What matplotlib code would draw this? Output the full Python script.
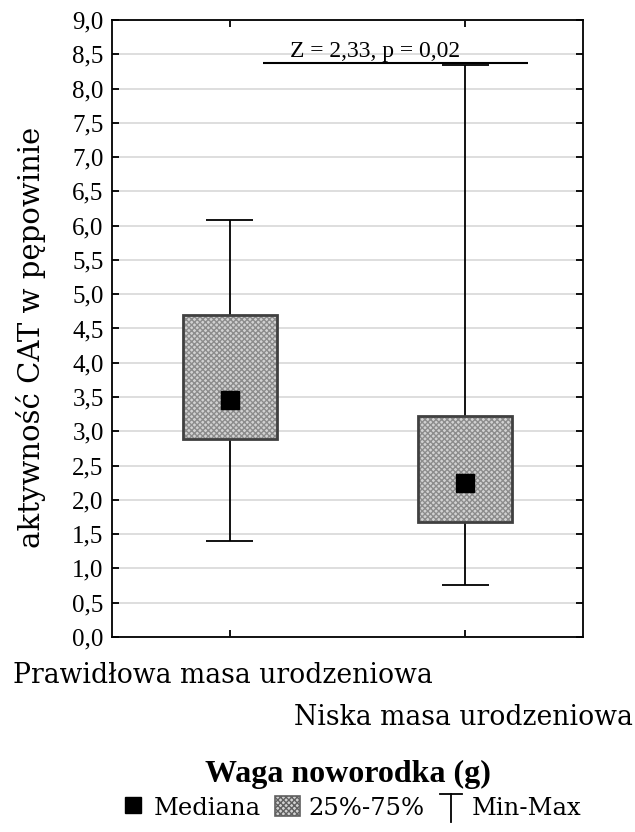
import matplotlib.pyplot as plt
import matplotlib as mpl
from matplotlib.patches import Patch
from matplotlib.lines import Line2D
from matplotlib.legend_handler import HandlerBase

# dane
groups = ['Prawidłowa masa urodzeniowa', 'Niska masa urodzeniowa']
mins = [1.40, 0.76]
q1 = [2.89, 1.68]
medians = [3.46, 2.25]
q3 = [4.70, 3.22]
maxs = [6.08, 8.34]
stat_text = 'Z = 2,33, p = 0,02'
stat_y = 8.37
stat_span = [0.141, 1.266]
y_ticks = [i * 0.5 for i in range(19)]

PAL = ['DejaVu Serif']
TIMES = ['Liberation Serif', 'DejaVu Serif']


class HandlerWhisker(HandlerBase):
    """Symbol Min-Max w legendzie"""

    def create_artists(self, legend, orig_handle, xdescent, ydescent,
                       width, height, fontsize, trans):
        cx = width / 2 - xdescent
        top = height * 1.0
        bottom = -height * 0.35
        bar = Line2D([cx - width * 0.45, cx + width * 0.45], [top, top],
                     color='black', linewidth=1.3, transform=trans)
        stem = Line2D([cx, cx], [bottom, top], color='black',
                      linewidth=1.3, transform=trans)
        return [bar, stem]


mpl.rcParams['font.family'] = TIMES
mpl.rcParams['hatch.linewidth'] = 1.0

fig = plt.figure(figsize=(6.35, 8.32), dpi=100)
ax = fig.add_axes([0.1764, 0.2344, 0.7417, 0.7416])

pos = list(range(len(groups)))
heights = [b - a for a, b in zip(q1, q3)]

ax.bar(pos, heights, bottom=q1, width=0.4, color='#d2d2d2', hatch='xxxxxx',
       edgecolor='#8c8c8c', linewidth=0, zorder=2)
ax.bar(pos, heights, bottom=q1, width=0.4, fill=False,
       edgecolor='#404040', linewidth=2, zorder=3)
ax.vlines(pos, q3, maxs, color='black', linewidth=1.3, zorder=2)
ax.vlines(pos, mins, q1, color='black', linewidth=1.3, zorder=2)
ax.hlines(maxs, [p - 0.1 for p in pos], [p + 0.1 for p in pos], color='black', linewidth=1.3)
ax.hlines(mins, [p - 0.1 for p in pos], [p + 0.1 for p in pos], color='black', linewidth=1.3)
ax.plot(pos, medians, 's', color='black', markersize=13, zorder=4, linestyle='none')

ax.hlines(stat_y, stat_span[0], stat_span[1], color='black', linewidth=1.5, zorder=4)
ax.text(0.617, stat_y + 0.09, stat_text, ha='center', va='baseline', fontsize=17)

ax.set_xlim(-0.5, 1.5)
ax.set_ylim(0, 9)
ax.set_yticks(y_ticks)
ax.set_yticklabels([f'{v:.1f}'.replace('.', ',') for v in y_ticks], fontsize=18)
ax.set_xticks(pos)
ax.set_xticklabels(['', ''])
ax.tick_params(direction='in', length=5, width=1.3, top=True, right=True, pad=6)
ax.yaxis.grid(True, color='#d8d8d8', linewidth=1.2)
ax.set_axisbelow(True)
for s in ax.spines.values():
    s.set_linewidth(1.3)

# podpisy kategorii, drugi przesunięty niżej
for p, label, dx, dy in zip(pos, groups, [-7, -2], [-39, -81]):
    ax.annotate(label, xy=(p, 0), xycoords=('data', 'axes fraction'),
                xytext=(dx, dy), textcoords='offset pixels',
                ha='center', va='center', fontsize=19.2, family=PAL)

ax.set_ylabel('aktywność CAT w pępowinie', fontsize=21, family=PAL, va='center')
ax.yaxis.set_label_coords(-0.172, 0.485)

fig.text(0.548, 0.069, 'Waga noworodka (g)', ha='center', va='center',
         fontsize=23, fontweight='bold')

handles = [
    Line2D([], [], marker='s', color='black', linestyle='none', markersize=11.5),
    Patch(facecolor='#d2d2d2', hatch='xxxxxx', edgecolor='#606060', linewidth=1.2),
    'whisker',
]
fig.legend(handles, ['Mediana', '25%-75%', 'Min-Max'], loc='center',
           bbox_to_anchor=(0.553, 0.029), ncol=3, frameon=False,
           prop={'family': PAL, 'size': 17.5},
           handlelength=1.0, handleheight=0.9, handletextpad=0.35, columnspacing=0.6,
           handler_map={str: HandlerWhisker()})

fig.savefig('out.png', dpi=100)
